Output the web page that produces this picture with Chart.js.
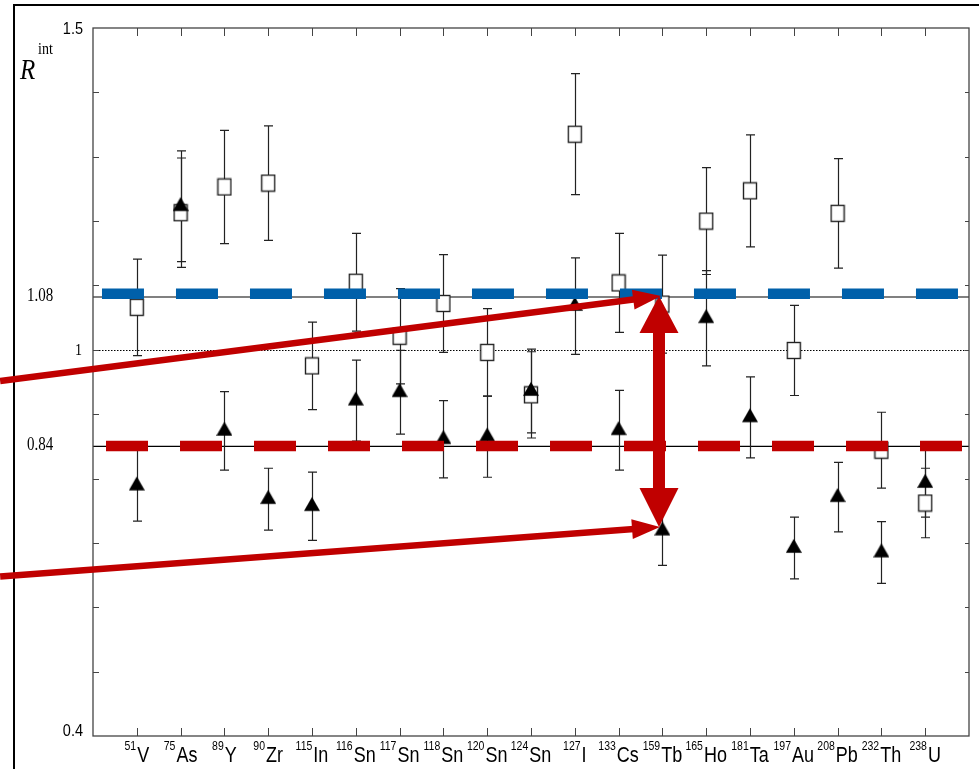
<!DOCTYPE html>
<html>
<head>
<meta charset="utf-8">
<script src="https://cdn.jsdelivr.net/npm/chart.js@4.4.0/dist/chart.umd.min.js"></script>
<style>
  html, body { margin: 0; padding: 0; background: #fff; }
</style>
</head>
<body>
<canvas id="chart" width="979" height="769"></canvas>
<script>
// nuclei on the x axis
const massNumbers = ["51", "75", "89", "90", "115", "116", "117", "118", "120", "124", "127", "133", "159", "165", "181", "197", "208", "232", "238"];
const elements = ["V", "As", "Y", "Zr", "In", "Sn", "Sn", "Sn", "Sn", "Sn", "I", "Cs", "Tb", "Ho", "Ta", "Au", "Pb", "Th", "U"];

// open squares
const squareValues = [1.066, 1.213, 1.253, 1.259, 0.975, 1.105, 1.021, 1.072, 0.996, 0.930, 1.335, 1.104, 1.071, 1.200, 1.247, 0.999, 1.212, 0.844, 0.762];
const squareErrors = [0.075, 0.085, 0.088, 0.089, 0.068, 0.076, 0.074, 0.076, 0.068, 0.067, 0.094, 0.077, 0.076, 0.083, 0.087, 0.070, 0.085, 0.059, 0.054];

// filled triangles
const triangleValues = [0.789, 1.223, 0.874, 0.768, 0.757, 0.921, 0.934, 0.861, 0.865, 0.936, 1.068, 0.875, 0.719, 1.049, 0.895, 0.692, 0.771, 0.685, 0.793];
const triangleErrors = [0.055, 0.086, 0.061, 0.048, 0.053, 0.063, 0.065, 0.060, 0.063, 0.065, 0.075, 0.062, 0.054, 0.074, 0.063, 0.048, 0.054, 0.048, 0.053];

// y axis labels
const yTickValues = [0.4, 0.85, 1, 1.082, 1.5];
const yTickLabels = ["0.4", "0.84", "1", "1.08", "1.5"];
const yMinorTicks = [0.5, 0.6, 0.7, 0.8, 0.9, 1.0, 1.1, 1.2, 1.3, 1.4];

// reference levels
const upperLevel = 1.082;
const upperDashLevel = 1.087;
const lowerLevel = 0.85;
const lowerDashLevel = 0.8505;
const unityLevel = 1;

// red arrows (data coordinates)
const arrowUpper = { from: [-2.12, 0.9515], to: [12.968, 1.0836] };
const arrowLower = { from: [-2.12, 0.6478], to: [12.945, 0.7247] };
const arrowVertical = { x: 12.922, top: 1.0836, bottom: 0.7247 };

const RED = "#c00000";
const BLUE = "#0060aa";

function makeSquare() {
  const c = document.createElement("canvas");
  c.width = 16;
  c.height = 19;
  const g = c.getContext("2d");
  g.fillStyle = "#fff";
  g.fillRect(1.5, 1.5, 13, 16);
  g.strokeStyle = "#222";
  g.lineWidth = 1.4;
  g.strokeRect(1.5, 1.5, 13, 16);
  return c;
}

function makeTriangle() {
  const c = document.createElement("canvas");
  c.width = 16;
  c.height = 20;
  const g = c.getContext("2d");
  g.fillStyle = "#000";
  g.beginPath();
  g.moveTo(8, 0.7);
  g.lineTo(16, 14.7);
  g.lineTo(0, 14.7);
  g.closePath();
  g.fill();
  return c;
}

const squarePoints = squareValues.map((v, i) => ({ x: i + 1, y: v }));
const trianglePoints = triangleValues.map((v, i) => ({ x: i + 1, y: v }));

const refLines = {
  id: "refLines",
  beforeDatasetsDraw(chart) {
    const ctx = chart.ctx;
    const a = chart.chartArea;
    const y = chart.scales.y;
    ctx.save();
    ctx.lineWidth = 2;
    ctx.strokeStyle = "#808080";
    ctx.beginPath();
    ctx.moveTo(a.left, y.getPixelForValue(upperLevel));
    ctx.lineTo(a.right, y.getPixelForValue(upperLevel));
    ctx.stroke();
    ctx.lineWidth = 1.3;
    ctx.strokeStyle = "#000";
    ctx.beginPath();
    ctx.moveTo(a.left, y.getPixelForValue(lowerLevel));
    ctx.lineTo(a.right, y.getPixelForValue(lowerLevel));
    ctx.stroke();
    ctx.lineWidth = 1;
    ctx.setLineDash([1.5, 1.5]);
    ctx.beginPath();
    ctx.moveTo(a.left, Math.round(y.getPixelForValue(unityLevel)) + 0.5);
    ctx.lineTo(a.right, Math.round(y.getPixelForValue(unityLevel)) + 0.5);
    ctx.stroke();
    ctx.restore();
  }
};

const errorBars = {
  id: "errorBars",
  beforeDatasetsDraw(chart) {
    const ctx = chart.ctx;
    const xs = chart.scales.x;
    const ys = chart.scales.y;
    ctx.save();
    ctx.strokeStyle = "#222";
    ctx.lineWidth = 1.2;
    const sets = [[squareValues, squareErrors], [triangleValues, triangleErrors]];
    sets.forEach(([vals, errs]) => {
      vals.forEach((v, i) => {
        const x = Math.round(xs.getPixelForValue(i + 1)) + 0.5;
        const y1 = ys.getPixelForValue(v + errs[i]);
        const y2 = ys.getPixelForValue(v - errs[i]);
        ctx.beginPath();
        ctx.moveTo(x, y1);
        ctx.lineTo(x, y2);
        ctx.moveTo(x - 4.5, y1);
        ctx.lineTo(x + 4.5, y1);
        ctx.moveTo(x - 4.5, y2);
        ctx.lineTo(x + 4.5, y2);
        ctx.stroke();
      });
    });
    ctx.restore();
  }
};

function arrowHead(ctx, x1, y1, x2, y2, len, half) {
  const ang = Math.atan2(y2 - y1, x2 - x1);
  const bx = x2 - len * Math.cos(ang);
  const by = y2 - len * Math.sin(ang);
  ctx.beginPath();
  ctx.moveTo(x2, y2);
  ctx.lineTo(bx + half * Math.sin(ang), by - half * Math.cos(ang));
  ctx.lineTo(bx - half * Math.sin(ang), by + half * Math.cos(ang));
  ctx.closePath();
  ctx.fill();
  return [bx, by];
}

const decorations = {
  id: "decorations",
  afterDraw(chart) {
    const ctx = chart.ctx;
    const a = chart.chartArea;
    const xs = chart.scales.x;
    const ys = chart.scales.y;
    ctx.save();

    // outer frame of the slide
    ctx.strokeStyle = "#000";
    ctx.lineWidth = 2;
    ctx.beginPath();
    ctx.moveTo(14, 769);
    ctx.lineTo(14, 5);
    ctx.lineTo(979, 5);
    ctx.stroke();

    // plot frame
    ctx.strokeStyle = "#444";
    ctx.lineWidth = 1.3;
    ctx.strokeRect(a.left, a.top, a.right - a.left, a.bottom - a.top);

    // ticks
    ctx.lineWidth = 1;
    ctx.beginPath();
    for (let i = 1; i <= elements.length; i++) {
      const x = Math.round(xs.getPixelForValue(i)) + 0.5;
      ctx.moveTo(x, a.bottom);
      ctx.lineTo(x, a.bottom - 8);
      ctx.moveTo(x, a.top);
      ctx.lineTo(x, a.top + 8);
    }
    yMinorTicks.forEach((v) => {
      const y = Math.round(ys.getPixelForValue(v)) + 0.5;
      ctx.moveTo(a.left, y);
      ctx.lineTo(a.left + 6, y);
      ctx.moveTo(a.right, y);
      ctx.lineTo(a.right - 4, y);
    });
    ctx.stroke();

    // x labels with superscript mass numbers
    ctx.fillStyle = "#000";
    ctx.textBaseline = "alphabetic";
    ctx.textAlign = "left";
    elements.forEach((el, i) => {
      const x = xs.getPixelForValue(i + 1);
      ctx.font = "10.5px 'Liberation Sans', Arial, sans-serif";
      const ws = ctx.measureText(massNumbers[i]).width;
      ctx.font = "18px 'Liberation Sans', Arial, sans-serif";
      const we = ctx.measureText(el).width;
      const x0 = x - (ws + 1 + we) / 2;
      ctx.save();
      ctx.translate(x0, 750);
      ctx.scale(1, 1.2);
      ctx.font = "10.5px 'Liberation Sans', Arial, sans-serif";
      ctx.fillText(massNumbers[i], 0, 0);
      ctx.restore();
      ctx.save();
      ctx.translate(x0 + ws + 1, 762);
      ctx.scale(1, 1.2);
      ctx.font = "18px 'Liberation Sans', Arial, sans-serif";
      ctx.fillText(el, 0, 0);
      ctx.restore();
    });

    // y labels
    ctx.textBaseline = "middle";
    yTickLabels.forEach((lab, i) => {
      let y = ys.getPixelForValue(yTickValues[i]);
      const edge = i === 0 || i === yTickLabels.length - 1;
      ctx.save();
      if (edge) {
        y = Math.min(Math.max(y, a.top + 1), a.bottom - 5);
        ctx.translate(83, y);
        ctx.textAlign = "right";
        ctx.font = "14.5px 'Liberation Sans', Arial, sans-serif";
      } else if (lab === "1") {
        ctx.translate(82, y + 1);
        ctx.textAlign = "right";
        ctx.font = "14px 'Liberation Serif', 'Times New Roman', serif";
      } else {
        ctx.translate(27, y - 1);
        ctx.textAlign = "left";
        ctx.font = "15px 'Liberation Serif', 'Times New Roman', serif";
      }
      ctx.scale(1, 1.2);
      ctx.fillText(lab, 0, 0);
      ctx.restore();
    });

    // axis title R^int
    ctx.textAlign = "left";
    ctx.textBaseline = "alphabetic";
    ctx.save();
    ctx.translate(20, 79);
    ctx.scale(1, 1.2);
    ctx.font = "italic 25px 'Liberation Serif', 'Times New Roman', serif";
    ctx.fillText("R", 0, 0);
    ctx.restore();
    ctx.save();
    ctx.translate(38, 54);
    ctx.scale(1, 1.2);
    ctx.font = "14px 'Liberation Serif', 'Times New Roman', serif";
    ctx.fillText("int", 0, 0);
    ctx.restore();

    // red arrows
    ctx.fillStyle = RED;
    ctx.strokeStyle = RED;
    [arrowUpper, arrowLower].forEach((ar) => {
      const x1 = xs.getPixelForValue(ar.from[0]);
      const y1 = ys.getPixelForValue(ar.from[1]);
      const x2 = xs.getPixelForValue(ar.to[0]);
      const y2 = ys.getPixelForValue(ar.to[1]);
      const [bx, by] = arrowHead(ctx, x1, y1, x2, y2, 28, 10);
      ctx.lineWidth = 6.5;
      ctx.beginPath();
      ctx.moveTo(x1, y1);
      ctx.lineTo(bx + 2 * (x2 - bx) / 28, by + 2 * (y2 - by) / 28);
      ctx.stroke();
    });
    const vx = xs.getPixelForValue(arrowVertical.x);
    const vt = ys.getPixelForValue(arrowVertical.top);
    const vb = ys.getPixelForValue(arrowVertical.bottom);
    ctx.fillRect(vx - 6, vt + 30, 12, vb - vt - 60);
    arrowHead(ctx, vx, vb, vx, vt, 37, 19.5);
    arrowHead(ctx, vx, vt, vx, vb, 39, 19.5);

    ctx.restore();
  }
};

new Chart(document.getElementById("chart").getContext("2d"), {
  type: "scatter",
  data: {
    datasets: [
      {
        type: "line",
        data: [{ x: 0.205, y: upperDashLevel }, { x: 19.75, y: upperDashLevel }],
        borderColor: BLUE,
        borderWidth: 10.5,
        borderDash: [42, 32],
        borderCapStyle: "butt",
        pointRadius: 0,
        order: 0
      },
      {
        type: "line",
        data: [{ x: 0.297, y: lowerDashLevel }, { x: 19.84, y: lowerDashLevel }],
        borderColor: RED,
        borderWidth: 10.5,
        borderDash: [42, 32],
        borderCapStyle: "butt",
        pointRadius: 0,
        order: 0
      },
      {
        data: trianglePoints,
        pointStyle: makeTriangle(),
        order: 1
      },
      {
        data: squarePoints,
        pointStyle: makeSquare(),
        order: 2
      }
    ]
  },
  options: {
    responsive: false,
    animation: false,
    layout: { padding: { left: 93, top: 28, right: 10, bottom: 33 } },
    plugins: {
      legend: { display: false },
      tooltip: { enabled: false }
    },
    scales: {
      x: { type: "linear", min: 0, max: 20, display: false },
      y: { type: "linear", min: 0.4, max: 1.5, display: false }
    }
  },
  plugins: [refLines, errorBars, decorations]
});
</script>
</body>
</html>
